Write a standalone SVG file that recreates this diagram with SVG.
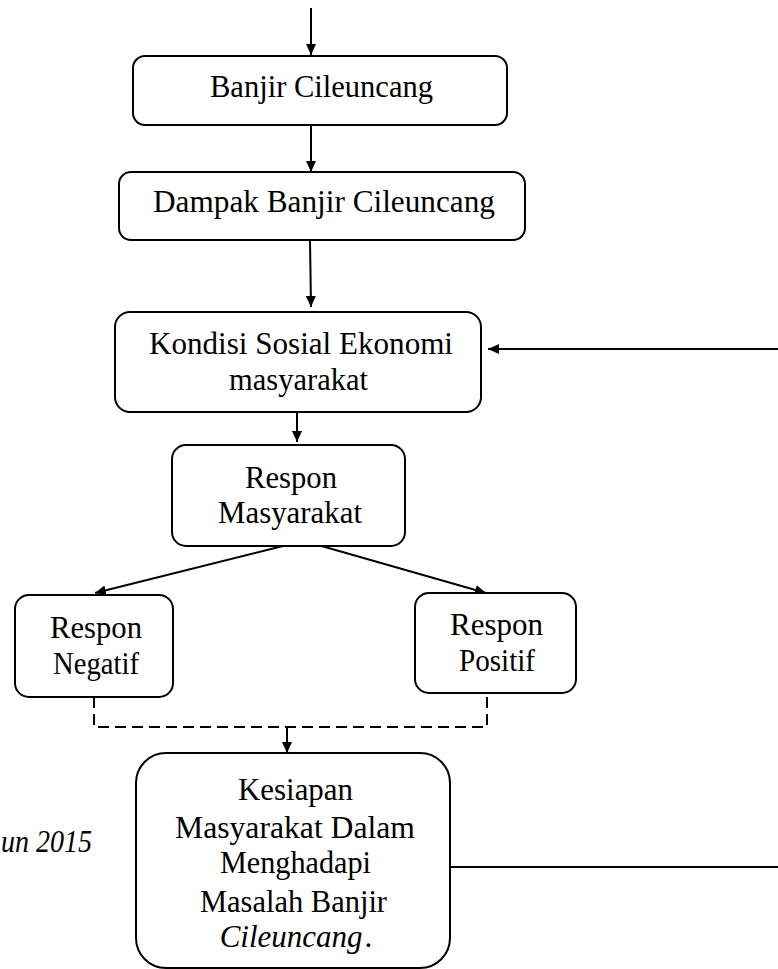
<svg xmlns="http://www.w3.org/2000/svg" width="778" height="969" viewBox="0 0 778 969">
<style>
.box{fill:#fff;stroke:#000;stroke-width:2}
.t{font-family:"Liberation Serif","Times New Roman",serif;font-size:32px;fill:#000;text-anchor:middle}
.c{stroke:#000;stroke-width:2;fill:none}
.d{stroke:#000;stroke-width:2;fill:none;stroke-dasharray:11,6}
</style>
<defs>
<marker id="ah" markerUnits="userSpaceOnUse" markerWidth="11" markerHeight="10" refX="11" refY="5" orient="auto">
<path d="M0,0 L11,5 L0,10 z" fill="#000"/>
</marker>
</defs>
<g id="connectors">
<line class="c" x1="311" y1="8" x2="311" y2="55" marker-end="url(#ah)"/>
<line class="c" x1="311" y1="125" x2="311" y2="172" marker-end="url(#ah)"/>
<line class="c" x1="310" y1="240" x2="311" y2="307" marker-end="url(#ah)"/>
<line class="c" x1="778" y1="349" x2="488" y2="349" marker-end="url(#ah)"/>
<line class="c" x1="297" y1="412" x2="297" y2="442" marker-end="url(#ah)"/>
<line class="c" x1="287" y1="545" x2="95" y2="593" marker-end="url(#ah)"/>
<line class="c" x1="311" y1="543" x2="486" y2="593" marker-end="url(#ah)"/>
<polyline class="d" points="94,697 94,727 487,727 487,693"/>
<line class="c" x1="287" y1="727" x2="287" y2="753" marker-end="url(#ah)"/>
<line class="c" x1="450" y1="867" x2="778" y2="867"/>
</g>
<g id="n1">
<rect class="box" x="133" y="56" width="374" height="69" rx="12"/>
<text class="t" x="321.5" y="97" textLength="223" lengthAdjust="spacingAndGlyphs">Banjir Cileuncang</text>
</g>
<g id="n2">
<rect class="box" x="119" y="172" width="406" height="68" rx="12"/>
<text class="t" x="324" y="212" textLength="342" lengthAdjust="spacingAndGlyphs">Dampak Banjir Cileuncang</text>
</g>
<g id="n3">
<rect class="box" x="115" y="312" width="366" height="100" rx="15"/>
<text class="t" x="301" y="354" textLength="304" lengthAdjust="spacingAndGlyphs">Kondisi Sosial Ekonomi</text>
<text class="t" x="298.5" y="390" textLength="139" lengthAdjust="spacingAndGlyphs">masyarakat</text>
</g>
<g id="n4">
<rect class="box" x="172" y="445" width="233" height="101" rx="14"/>
<text class="t" x="291" y="488" textLength="92" lengthAdjust="spacingAndGlyphs">Respon</text>
<text class="t" x="290" y="523" textLength="144" lengthAdjust="spacingAndGlyphs">Masyarakat</text>
</g>
<g id="n5">
<rect class="box" x="15" y="595" width="158" height="102" rx="14"/>
<text class="t" x="96" y="638" textLength="92" lengthAdjust="spacingAndGlyphs">Respon</text>
<text class="t" x="96" y="674" textLength="86" lengthAdjust="spacingAndGlyphs">Negatif</text>
</g>
<g id="n6">
<rect class="box" x="415" y="593" width="161" height="100" rx="14"/>
<text class="t" x="496.5" y="635" textLength="93" lengthAdjust="spacingAndGlyphs">Respon</text>
<text class="t" x="497" y="671" textLength="76" lengthAdjust="spacingAndGlyphs">Positif</text>
</g>
<g id="n7">
<rect class="box" x="136" y="753" width="314" height="215" rx="30"/>
<text class="t" x="295.5" y="800" textLength="115" lengthAdjust="spacingAndGlyphs">Kesiapan</text>
<text class="t" x="295" y="838" textLength="240" lengthAdjust="spacingAndGlyphs">Masyarakat Dalam</text>
<text class="t" x="295.5" y="873" textLength="151" lengthAdjust="spacingAndGlyphs">Menghadapi</text>
<text class="t" x="293.5" y="912" textLength="187" lengthAdjust="spacingAndGlyphs">Masalah Banjir</text>
<text class="t" x="296" y="947" style="font-size:31px"><tspan font-style="italic">Cileuncang</tspan><tspan dx="2">.</tspan></text>
</g>
<text class="t" style="text-anchor:start;font-style:italic" x="1" y="852" textLength="91" lengthAdjust="spacingAndGlyphs">un 2015</text>
</svg>
